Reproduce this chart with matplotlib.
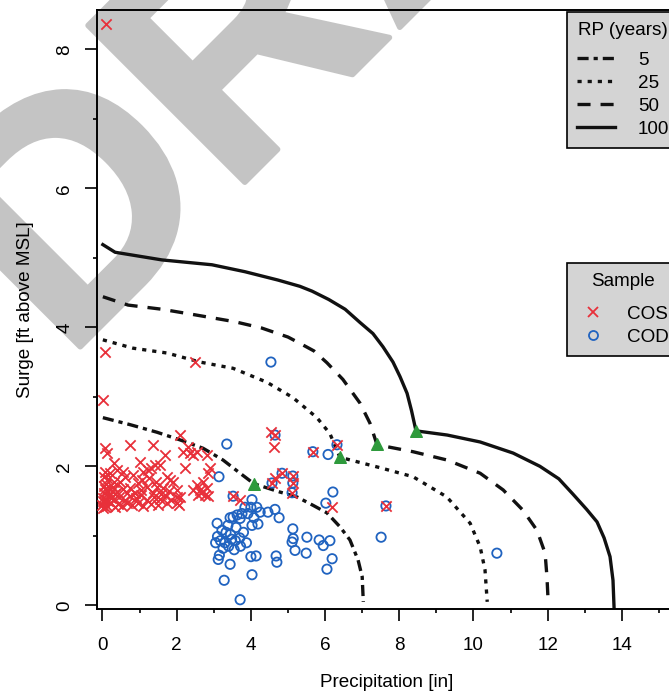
import matplotlib
matplotlib.use("Agg")
import matplotlib.pyplot as plt
from matplotlib.lines import Line2D
import matplotlib.patheffects as pe

plt.rcParams['font.family'] = ['Liberation Sans', 'DejaVu Sans']
plt.rcParams['lines.scale_dashes'] = False
FS = 13.6

# joint return period curves (precip [in], surge [ft])
rp5_x = [0.01, 0.74, 1.47, 2.09, 2.71, 3.25, 3.71, 4.08, 4.78, 5.24, 5.67, 6.05, 6.40, 6.67, 6.89, 7.00, 7.03]
rp5_y = [2.70, 2.60, 2.49, 2.38, 2.26, 2.09, 1.90, 1.75, 1.63, 1.56, 1.44, 1.33, 1.13, 0.94, 0.65, 0.41, 0.05]
rp25_x = [0.01, 0.82, 1.74, 2.63, 3.52, 4.43, 5.13, 5.78, 6.13, 6.40, 7.48, 8.37, 9.28, 9.91, 10.18, 10.31, 10.37]
rp25_y = [3.82, 3.70, 3.63, 3.50, 3.41, 3.21, 2.99, 2.70, 2.47, 2.13, 1.98, 1.85, 1.56, 1.18, 0.84, 0.51, 0.05]
rp50_x = [0.01, 0.69, 1.60, 2.49, 3.57, 4.29, 5.00, 5.32, 5.70, 6.05, 6.48, 6.94, 7.21, 7.40,
          8.37, 9.29, 10.18, 10.80, 11.33, 11.71, 11.93, 11.98, 12.01]
rp50_y = [4.44, 4.32, 4.26, 4.18, 4.08, 3.99, 3.86, 3.77, 3.66, 3.49, 3.25, 2.91, 2.62, 2.31,
          2.21, 2.09, 1.90, 1.66, 1.37, 1.08, 0.75, 0.41, 0.08]
rp100_x = [0.01, 0.34, 1.60, 2.95, 3.84, 4.73, 5.32, 5.65, 6.10, 6.54, 6.94, 7.29, 7.56, 7.83, 8.02, 8.21, 8.33, 8.45,
           9.29, 10.18, 11.07, 11.79, 12.30, 12.68, 13.05, 13.33, 13.52, 13.68, 13.76, 13.79]
rp100_y = [5.19, 5.08, 4.97, 4.90, 4.80, 4.68, 4.59, 4.52, 4.40, 4.26, 4.07, 3.91, 3.72, 3.50, 3.29, 3.05, 2.80, 2.51,
           2.45, 2.35, 2.19, 2.00, 1.82, 1.60, 1.38, 1.20, 0.97, 0.70, 0.36, -0.05]

# design points
dp_x = [4.08, 6.40, 7.40, 8.45]
dp_y = [1.75, 2.13, 2.32, 2.51]

# COS sample
cos_x = [0.09, 0.07, 0.01, 2.49,
         0.07, 0.12, 0.74, 1.36, 2.09, 2.30, 2.55, 2.44, 2.82, 1.68, 2.17, 2.36,
         1.01, 1.41, 1.55, 1.23, 2.22, 2.90, 2.84, 0.07, 0.20, 0.39, 0.55, 1.30, 1.10, 0.30,
         0.82, 1.74, 1.82, 1.90, 1.06, 0.47, 2.55, 2.71, 0.15, 0.30, 0.60, 1.25, 1.45, 0.95,
         2.44, 2.63, 2.82, 0.28, 0.74, 1.20, 1.47, 1.63, 2.01, 0.05, 0.12, 0.40, 0.55, 0.88,
         1.05, 1.35, 1.78, 0.20, 0.65, 1.58,
         2.76, 2.57, 0.02, 0.10, 0.18, 0.30, 0.45, 0.60, 0.75, 0.90, 1.05, 1.20, 1.40, 1.55,
         1.70, 1.85, 2.02, 2.65, 2.85, 0.35,
         0.00, 0.05, 0.12, 0.22, 0.33, 0.42, 0.52, 0.66, 0.80, 0.95, 1.10, 1.30, 1.50, 1.75,
         2.05, 0.02, 0.08,
         0.03, 0.08, 0.15, 0.25, 0.04, 0.10, 0.22, 0.01, 2.09, 2.00,
         3.52, 3.71, 4.54, 4.62, 4.65, 4.57, 4.65, 4.84, 5.13, 5.13, 5.11, 5.67, 6.32, 6.18, 7.64]
cos_y = [8.36, 3.64, 2.96, 3.50,
         2.26, 2.19, 2.31, 2.31, 2.45, 2.28, 2.21, 2.16, 2.16, 2.16, 2.21, 2.19,
         2.06, 2.02, 2.02, 1.95, 1.97, 1.97, 1.90, 1.92, 1.90, 1.95, 1.92, 1.98, 1.92, 2.05,
         1.88, 1.85, 1.80, 1.77, 1.80, 1.77, 1.73, 1.77, 1.82, 1.78, 1.84, 1.83, 1.78, 1.76,
         1.66, 1.66, 1.69, 1.70, 1.69, 1.70, 1.70, 1.69, 1.66, 1.72, 1.65, 1.63, 1.68, 1.62,
         1.66, 1.62, 1.64, 1.60, 1.61, 1.60,
         1.59, 1.59, 1.55, 1.52, 1.57, 1.53, 1.56, 1.52, 1.57, 1.54, 1.58, 1.52, 1.56, 1.53,
         1.57, 1.52, 1.56, 1.62, 1.57, 1.60,
         1.45, 1.48, 1.43, 1.47, 1.42, 1.46, 1.43, 1.47, 1.44, 1.47, 1.43, 1.46, 1.44, 1.47,
         1.45, 1.50, 1.41,
         1.62, 1.68, 1.50, 1.65, 1.85, 1.75, 1.55, 1.40, 1.56, 1.47,
         1.57, 1.51, 2.49, 2.28, 2.45, 1.76, 1.83, 1.90, 1.86, 1.76, 1.62, 2.21, 2.31, 1.42, 1.43]

# COD sample
cod_x = [4.54, 3.35, 3.14, 3.52, 4.65, 5.67, 6.08, 6.32, 6.21, 6.02, 4.84, 4.57, 5.13, 5.13, 5.11,
         4.03, 4.16, 4.25, 3.84, 3.76, 3.92, 3.71, 3.44, 3.52, 3.63, 3.09, 4.46, 4.65, 4.76,
         4.08, 4.19, 4.03, 5.13, 4.00,
         3.22, 3.33, 3.45, 3.10, 3.18, 3.30, 3.48, 3.58, 3.70, 3.80, 3.05, 3.25, 3.40, 3.55,
         3.72, 3.88, 3.15, 3.12, 3.60, 3.38,
         4.00, 4.14, 4.68, 4.70, 3.44, 4.03, 3.28, 3.71,
         5.14, 5.11, 5.19, 5.51, 5.49, 5.84, 5.95, 6.13, 6.19, 6.05,
         7.64, 7.51, 10.63]
cod_y = [3.50, 2.32, 1.85, 1.57, 2.45, 2.21, 2.17, 2.31, 1.63, 1.47, 1.90, 1.76, 1.86, 1.76, 1.62,
         1.52, 1.41, 1.34, 1.41, 1.32, 1.32, 1.25, 1.26, 1.27, 1.30, 1.18, 1.34, 1.38, 1.26,
         1.26, 1.17, 1.15, 1.10, 1.41,
         1.08, 1.05, 1.02, 0.99, 0.93, 0.90, 0.95, 0.93, 0.97, 1.05, 0.90, 0.82, 0.85, 0.80,
         0.85, 0.90, 0.72, 0.66, 1.12, 1.15,
         0.70, 0.71, 0.71, 0.62, 0.59, 0.44, 0.36, 0.08,
         0.96, 0.91, 0.79, 0.98, 0.75, 0.94, 0.86, 0.93, 0.67, 0.52,
         1.43, 0.98, 0.75]

rp_labels = ['5', '25', '50', '100']
sample_labels = ['COS', 'COD']

fig = plt.figure(figsize=(6.69, 6.94), dpi=100)
fig.text(0.0972, 0.4784, 'DRAFT', rotation=45, rotation_mode='anchor',
         ha='left', va='baseline', fontsize=232, fontweight='bold',
         color='#c4c4c4', zorder=-1,
         path_effects=[pe.Stroke(linewidth=4, foreground='#c4c4c4', joinstyle='round'), pe.Normal()])

ax = fig.add_axes([0.1457, 0.1218, 0.8632, 0.8638])
ax.patch.set_alpha(0)

lw = 2.4
styles = [
    dict(dashes=(8, 3.6, 3, 3.6)),
    dict(dashes=(3, 4.3)),
    dict(dashes=(9.4, 7.2)),
    dict(linestyle='-'),
]
curves = [(rp5_x, rp5_y), (rp25_x, rp25_y), (rp50_x, rp50_y), (rp100_x, rp100_y)]
for (cx, cy), st in zip(curves, styles):
    ax.plot(cx, cy, color='#111111', lw=lw, solid_joinstyle='round', **st)

ax.scatter(cod_x, cod_y, marker='o', s=45, facecolors='none', edgecolors='#2063c0', linewidths=1.3, zorder=3)
ax.scatter(cos_x, cos_y, marker='x', s=55, color='#e8303a', linewidths=1.3, zorder=4)
ax.scatter(dp_x, dp_y, marker='^', s=70, color='#2e9a3c', zorder=5)

ax.set_xlim(-0.135, 15.43)
ax.set_ylim(-0.06, 8.566)
ax.set_xticks(range(0, 16, 2))
ax.set_xticks(range(1, 16, 2), minor=True)
ax.set_yticks(range(0, 9, 2))
ax.set_yticks(range(1, 9, 2), minor=True)
ax.tick_params(which='major', direction='out', length=8.5, width=1.2, labelsize=FS)
ax.tick_params(axis='x', which='major', pad=11)
ax.tick_params(axis='y', which='major', pad=9)
ax.tick_params(which='minor', direction='out', length=3, width=1.2)
for lab in ax.get_yticklabels():
    lab.set_rotation(90)
    lab.set_va('center')
for s in ax.spines.values():
    s.set_linewidth(1.4)

ax.set_xlabel('Precipitation [in]', fontsize=FS, labelpad=15)
ax.set_ylabel('Surge [ft above MSL]', fontsize=FS, labelpad=16)

legend_kw = dict(loc='upper left', bbox_transform=fig.transFigure, fontsize=FS, title_fontsize=FS,
                 fancybox=False, framealpha=1, facecolor='#d4d4d4', edgecolor='black',
                 borderaxespad=0, borderpad=0.55, labelspacing=0.3)

rp_handles = [Line2D([], [], color='#111111', lw=lw, **st) for st in styles]
leg1 = ax.legend(rp_handles, rp_labels, title='RP (years)', bbox_to_anchor=(567 / 669, 1 - 12 / 694),
                 handlelength=2.0, handletextpad=1.2, **legend_kw)
leg1.get_frame().set_linewidth(1.2)
leg1._legend_box.sep = 9
ax.add_artist(leg1)

s_handles = [Line2D([], [], marker='x', color='#e8303a', ls='none', markersize=7, mew=1.3),
             Line2D([], [], marker='o', mfc='none', mec='#2063c0', ls='none', markersize=6.5, mew=1.3)]
leg2 = ax.legend(s_handles, sample_labels, title='Sample', bbox_to_anchor=(567 / 669, 1 - 263 / 694),
                 handlelength=1.6, handletextpad=1.0, **legend_kw)
leg2.get_frame().set_linewidth(1.2)
leg2._legend_box.sep = 11

fig.savefig('out.png', dpi=100)
